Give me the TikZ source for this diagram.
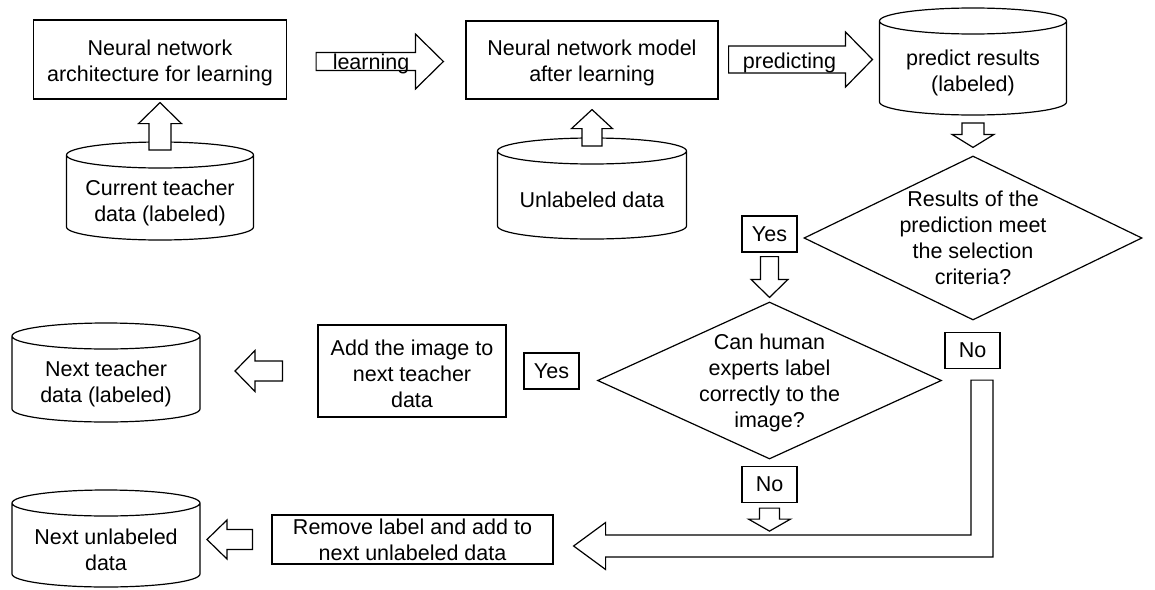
\documentclass[tikz,border=0pt]{standalone}
\usepackage{fontspec}
\setmainfont{Liberation Sans}
\usetikzlibrary{shapes.geometric,calc}

\tikzset{
  every node/.style={font=\fontsize{21.5}{26}\selectfont},
  box/.style={draw, line width=1.2pt, align=center, inner sep=0pt},
  tag/.style={draw, line width=1.2pt, inner sep=0pt, minimum width=55, minimum height=36},
  dec/.style={draw, diamond, line width=1.2pt, align=center, inner sep=-22pt},
  db/.style={align=center, inner sep=0pt, outer sep=0pt},
  fat/.style={draw, fill=white, line width=1.2pt, line join=miter},
}

% struts that set the first line a little lower
\newcommand\boxstrut{\rule{0pt}{21.7pt}}
\newcommand\dbstrut{\rule{0pt}{25.7pt}}

% database drum round a node
\newcommand\dbr{13pt}
\newcommand\dbdraw[1]{%
  \draw[line width=1.2pt] let \p1=(#1.north west), \p2=(#1.south east), \n1={(\x2-\x1)/2} in
    (#1.north) ellipse [x radius=\n1, y radius=\dbr]
    (\p1) -- (\x1,\y2+\dbr) arc [start angle=180, end angle=360, x radius=\n1, y radius=\dbr] -- (\x2,\y1);}

% hollow block arrow: from, to, half shaft, half head, head length
\newcommand\fatarrow[5]{%
  \draw[fat] let \p1=(#1), \p2=(#2), \n1={atan2(\y2-\y1,\x2-\x1)},
    \n2={veclen(\x2-\x1,\y2-\y1)-#5} in
    ($(\p1)+(\n1+90:#3)$) -- ($(\p1)+(\n1:\n2)+(\n1+90:#3)$)
    -- ($(\p1)+(\n1:\n2)+(\n1+90:#4)$) -- (\p2)
    -- ($(\p1)+(\n1:\n2)+(\n1-90:#4)$) -- ($(\p1)+(\n1:\n2)+(\n1-90:#3)$)
    -- ($(\p1)+(\n1-90:#3)$) -- cycle;}

\begin{document}
\begin{tikzpicture}[x=1pt,y=1pt]
  \useasboundingbox (0,0) rectangle (1155,-589);

  % top row
  \node[box, minimum width=253, minimum height=79] (arch) at (160,-59.5) {\boxstrut Neural network\\architecture for learning};
  \node[box, minimum width=252, minimum height=78] (model) at (592,-60) {\boxstrut Neural network model\\after learning};
  \node[db, minimum width=187, minimum height=85] (cur) at (160,-197.5) {\dbstrut Current teacher\\data (labeled)};
  \node[db, minimum width=189, minimum height=88] (unl) at (592,-195) {\dbstrut Unlabeled data};
  \node[db, minimum width=187, minimum height=94] (pred) at (973,-68) {\dbstrut predict results\\(labeled)};

  % decisions
  \node[dec, minimum width=338, minimum height=164] (crit) at (973,-238) {Results of the\\prediction meet\\the selection\\criteria?};
  \node[tag] (yes1) at (769.5,-234) {Yes};
  \node[dec, minimum width=344, minimum height=157] (human) at (769.5,-380.5) {\rule{0pt}{20.7pt}Can human\\experts label\\correctly to the\\image?};
  \node[tag] (no1) at (972.5,-350.5) {No};
  \node[tag] (yes2) at (551.5,-371) {Yes};
  \node[tag] (no2) at (769.5,-484.5) {No};

  % outputs
  \node[box, minimum width=188, minimum height=92] (add) at (412,-371) {\boxstrut Add the image to\\next teacher\\data};
  \node[box, minimum width=281, minimum height=49] (remove) at (412.5,-539.5) {Remove label and add to\\next unlabeled data};
  \node[db, minimum width=188, minimum height=86] (nextt) at (106,-379) {\dbstrut Next teacher\\data (labeled)};
  \node[db, minimum width=188, minimum height=84] (nextu) at (106,-545) {\dbstrut Next unlabeled\\data};

  \foreach \dbname in {cur,unl,pred,nextt,nextu} {\dbdraw{\dbname}}

  % block arrows
  \fatarrow{$(cur.north)+(0,5)$}{$(arch.south)+(0,-3)$}{11}{21.5}{21}
  \fatarrow{$(arch.east)+(29,-2)$}{$(model.west)+(-22,-1.5)$}{9}{27.5}{28}
  \fatarrow{$(unl.north)+(0,5)$}{$(model.south)+(0,-10)$}{10}{20.5}{19}
  \fatarrow{$(model.east)+(10,0.5)$}{$(pred.west)+(-7,8.5)$}{13.5}{27.5}{27}
  \fatarrow{$(pred.south)+(0,-8)$}{$(crit.north)+(0,8)$}{11}{21}{13}
  \fatarrow{$(yes1.south)+(0,-4)$}{$(human.north)+(0,4)$}{9}{18.5}{18}
  \fatarrow{$(add.west)+(-35,0)$}{$(nextt.east)+(35,8)$}{10}{20.5}{20}
  \fatarrow{$(no2.south)+(0,-5)$}{$(no2.south)+(0,-28)$}{10}{21}{12}
  \fatarrow{$(remove.west)+(-19,0)$}{$(nextu.east)+(7,5.5)$}{10}{19.5}{20}

  \node (lrn) at (371,-64) {learning};
  \node (prd) at (789.5,-63) {predicting};

  % long "No" arrow
  \coordinate (lstart) at ($(no1.south)+(9.5,-11)$);
  \coordinate (ltip) at ($(remove.east)+(20,-6.5)$);
  \draw[fat] let \p1=(lstart), \p2=(ltip) in
    (\x1-11pt,\y1) -- (\x1-11pt,\y2+11pt) -- (\x2+32pt,\y2+11pt) -- (\x2+32pt,\y2+23.5pt)
    -- (\p2) -- (\x2+32pt,\y2-23.5pt) -- (\x2+32pt,\y2-11pt) -- (\x1+11pt,\y2-11pt)
    -- (\x1+11pt,\y1) -- cycle;
\end{tikzpicture}
\end{document}
